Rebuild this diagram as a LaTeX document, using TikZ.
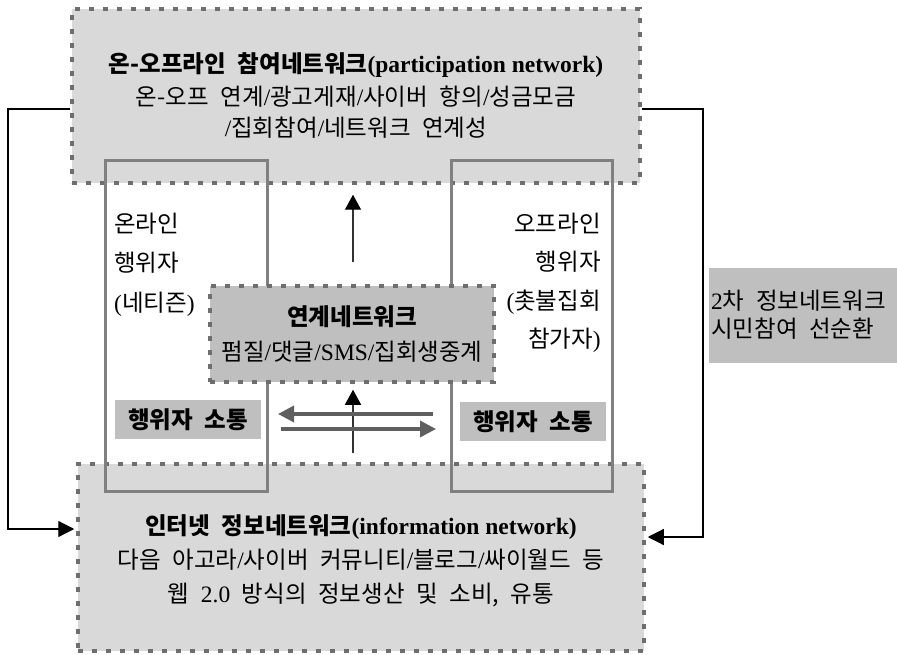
\documentclass[tikz,border=0pt]{standalone}
\usepackage{fontspec}
\setmainfont{Liberation Serif}
\newfontfamily\hangulfont{Noto Sans CJK KR}[WordSpace=2.2]
\newcommand{\hg}[1]{{\hangulfont #1}}
\usetikzlibrary{arrows.meta}
\definecolor{boxlight}{HTML}{D9D9D9}
\definecolor{boxmid}{HTML}{BFBFBF}
\definecolor{dashgray}{HTML}{6E6E6E}
\definecolor{colgray}{HTML}{808080}
\definecolor{arrgray}{HTML}{5F5F5F}

\begin{document}
\begin{tikzpicture}[x=1pt,y=-1pt,
  txt/.style={inner sep=0pt, font=\fontsize{23.5}{27}\selectfont},
  boldtxt/.style={txt, font=\fontsize{23.5}{27}\selectfont\bfseries},
  netbox/.style={draw=dashgray, line width=3.5pt, dash pattern=on 5pt off 9pt, fill=boxlight, inner sep=0pt},
  linkbox/.style={netbox, fill=boxmid},
  colbox/.style={draw=colgray, line width=3pt, inner sep=0pt},
  tagbox/.style={fill=boxmid, inner sep=0pt, font=\fontsize{23.5}{27}\selectfont\bfseries},
  notebox/.style={fill=boxmid, inner sep=0pt},
  fbline/.style={line width=1.2pt, -{Triangle[length=16pt,width=16pt]}, shorten >=2pt},
  uparrow/.style={draw=black!80, line width=1.4pt, -{Triangle[length=15pt,width=16pt,color=black]}},
  flowarrow/.style={draw=arrgray, line width=3.5pt, -{Triangle[length=16pt,width=16pt]}},
]
% canvas
\fill[white] (0,0) rectangle (897,655);
\useasboundingbox (0,0) rectangle (897,655);

% the two network layers
\node[netbox, minimum width=568pt, minimum height=174pt] (top) at (356,96) {};
\node[netbox, minimum width=566pt, minimum height=187pt] (bot) at (361,557.5) {};

% actor columns
\node[colbox, minimum width=162pt, minimum height=330pt] (colL) at (186,326) {};
\node[colbox, minimum width=161pt, minimum height=330pt] (colR) at (531.5,326) {};

% linking network in the middle
\node[linkbox, minimum width=284pt, minimum height=96pt] (link) at (352,334) {};

% texts of the participation network
\node[boldtxt] (topT) at (356,65) {\hg{온-오프라인 참여네트워크}(participation network)};
\node[txt] (topA) at (356,97) {\hg{온-오프 연계}/\hg{광고게재}/\hg{사이버 항의}/\hg{성금모금}};
\node[txt] (topB) at (356,128) {/\hg{집회참여}/\hg{네트워크 연계성}};

% texts of the information network
\node[boldtxt] (botT) at (361,527) {\hg{인터넷 정보네트워크}(information network)};
\node[txt] (botA) at (361,560) {\hg{다음 아고라}/\hg{사이버 커뮤니티}/\hg{블로그}/\hg{싸이월드 등}};
\node[txt] (botB) at (361,595) {\hg{웹 }2.0\hg{ 방식의 정보생산 및 소비, 유통}};

% texts of the linking network
\node[boldtxt] (linkT) at (352,317) {\hg{연계네트워크}};
\node[txt] (linkA) at (352,352) {\hg{펌질}/\hg{댓글}/SMS/\hg{집회생중계}};

% online actors
\node[txt, anchor=west] (onA) at (114,224) {\hg{온라인}};
\node[txt, anchor=west] (onB) at (114,263) {\hg{행위자}};
\node[txt, anchor=west] (onC) at (114,304) {(\hg{네티즌})};

% offline actors
\node[txt, anchor=east] (offA) at (601,224) {\hg{오프라인}};
\node[txt, anchor=east] (offB) at (601,262) {\hg{행위자}};
\node[txt, anchor=east] (offC) at (601,302) {(\hg{촛불집회}};
\node[txt, anchor=east] (offD) at (601,340) {\hg{참가자})};

% actor communication tags
\node[tagbox, minimum width=146pt, minimum height=39pt] (actL) at (188,419.5) {\hg{행위자 소통}};
\node[tagbox, minimum width=146pt, minimum height=39pt] (actR) at (533,421.5) {\hg{행위자 소통}};

% side note
\node[notebox, minimum width=188pt, minimum height=95pt] (note) at (803,315.5) {};
\node[txt, anchor=west] (noteA) at (711,301) {2\hg{차 정보네트워크}};
\node[txt, anchor=west] (noteB) at (711,329) {\hg{시민참여 선순환}};

% feedback loops
\coordinate (lfa) at (8,109);
\coordinate (lfb) at (8,529);
\draw[fbline] (top.west |- lfa) -- (lfa) -- (lfb) -- (bot.west |- lfb);
\coordinate (rfa) at (703,109);
\coordinate (rfb) at (703,537);
\draw[fbline] (top.east |- rfa) -- (rfa) -- (rfb) -- (bot.east |- rfb);

% upward flows
\coordinate (upa) at (353,262);
\draw[uparrow, shorten >=10pt] (upa) -- (top.south -| upa);
\coordinate (upb) at (353,453);
\draw[uparrow, shorten >=6pt] (upb) -- (link.south -| upb);

% exchange between the actor groups
\coordinate (hlA) at (433,414);
\coordinate (hlB) at (278,414);
\draw[flowarrow] (hlA) -- (hlB);
\coordinate (hrA) at (281,429);
\coordinate (hrB) at (436,429);
\draw[flowarrow] (hrA) -- (hrB);
\end{tikzpicture}
\end{document}
